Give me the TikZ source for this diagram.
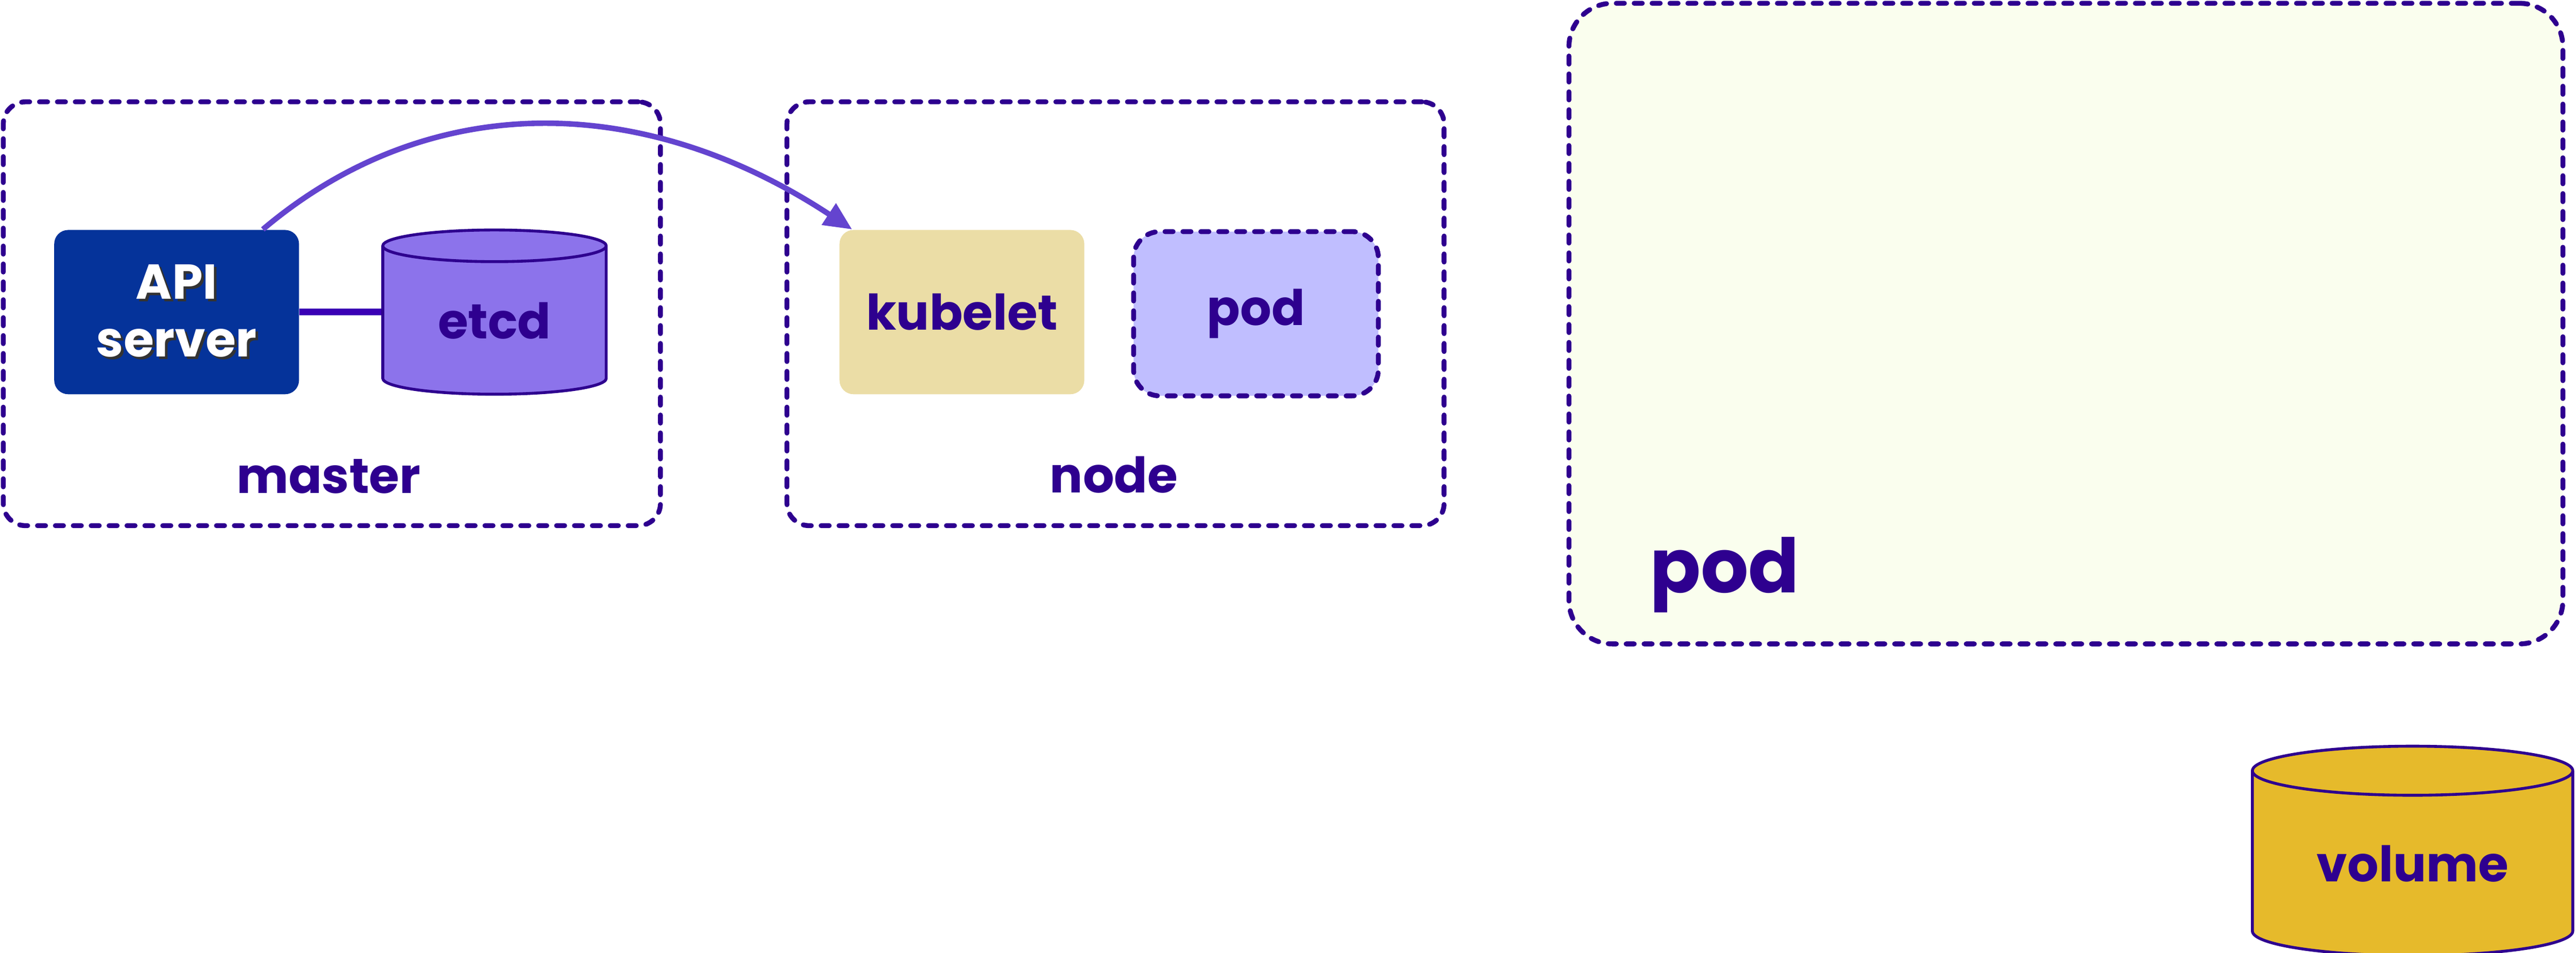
\documentclass[tikz,border=0pt]{standalone}
\usepackage{fontspec}
\setmainfont{Poppins}
\usetikzlibrary{shapes.geometric,arrows.meta}

\definecolor{inkpurple}{HTML}{2E008F}
\definecolor{apiblue}{HTML}{05339A}
\definecolor{etcdviolet}{HTML}{8C73EB}
\definecolor{linkpurple}{HTML}{3A00B5}
\definecolor{arrowviolet}{HTML}{6444CF}
\definecolor{kubeletsand}{HTML}{EBDDA6}
\definecolor{podlilac}{HTML}{C0BEFF}
\definecolor{podcream}{HTML}{FAFEEE}
\definecolor{volumegold}{HTML}{E6BA2B}

\newcommand{\shadowtext}[1]{\makebox[0pt][l]{\kern0.9pt\raisebox{-0.9pt}{\textcolor{black!80}{#1}}}#1}

\tikzset{%
        frame/.style={
                rectangle,
                draw=inkpurple,
                line width=1.7pt,
                dash pattern=on 2.8pt off 3.4pt,
                line cap=round
            },
        block/.style={
                rectangle,
                rounded corners=0.17cm,
                minimum width=2.98cm,
                minimum height=2.0cm,
                inner sep=0pt
            },
        store/.style={
                cylinder,
                shape border rotate=90,
                anchor=shape center,
                draw=inkpurple,
                line width=1pt,
                inner sep=0pt
            }
    }

\begin{document}
\begin{tikzpicture}[every node/.style={font=\fontsize{17}{20}\selectfont\bfseries, text=inkpurple, align=center},]

    \useasboundingbox (0,0) rectangle (31.36,11.60);

    % master:
        \node [frame, rounded corners=0.27cm, minimum width=8.0cm, minimum height=5.16cm]  (master) at (4.04,7.78) {};
        \node [block, fill=apiblue, text=white]  (api) at (2.15,7.80) {\shadowtext{API}\\\shadowtext{server}};
        \node [store, fill=etcdviolet, minimum width=2.72cm, minimum height=2.0cm, aspect=0.28]  (etcd) at (6.02,7.80) {etcd};
        \node  (masterlabel) at (4.00,5.80) {master};

    % node:
        \node [frame, rounded corners=0.27cm, minimum width=8.0cm, minimum height=5.16cm]  (worker) at (13.58,7.78) {};
        \node [block, fill=kubeletsand]  (kubelet) at (11.71,7.80) {kubelet};
        \node [block, frame, fill=podlilac, rounded corners=0.32cm]  (pod) at (15.29,7.78) {pod};
        \node  (workerlabel) at (13.56,5.82) {node};

    % pod with volume:
        \node [frame, fill=podcream, rounded corners=0.53cm, minimum width=12.10cm, minimum height=7.80cm]  (bigpod) at (25.15,7.66) {};
        \node [anchor=west, font=\fontsize{26}{30}\selectfont\bfseries]  (bigpodlabel) at (19.96,4.60) {pod};
        \node [store, fill=volumegold, minimum width=3.9cm, minimum height=2.55cm, aspect=0.256]  (volume) at (29.37,1.24) {volume};

        \draw [linkpurple, line width=2.3pt] (api.east) -- (api.east -| etcd.west);
        \draw [-{Triangle[length=0.34cm,width=0.3cm]}, arrowviolet, line width=1.9pt] ([xshift=1.05cm]api.north) .. controls (5.2,10.5) and (7.8,10.5) .. ([xshift=0.16cm]kubelet.north west);
    \end{tikzpicture}
\end{document}
